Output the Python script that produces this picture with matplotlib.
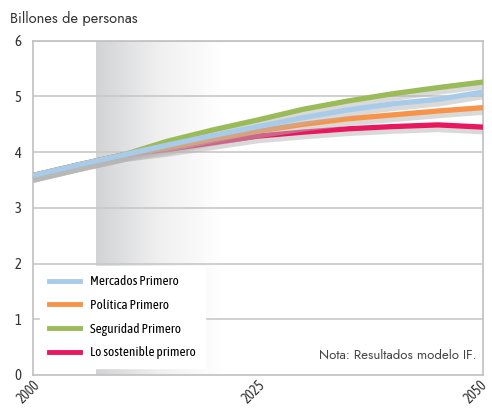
import matplotlib
matplotlib.use("Agg")
import matplotlib.pyplot as plt
import matplotlib.patheffects as pe
import matplotlib.transforms as mtransforms
import numpy as np
from matplotlib.colors import LinearSegmentedColormap
from matplotlib.lines import Line2D

years = [2000, 2005, 2010, 2015, 2020, 2025, 2030, 2035, 2040, 2045, 2050]
mercados = [3.58, 3.77, 3.95, 4.13, 4.30, 4.46, 4.62, 4.76, 4.87, 4.95, 5.08]
politica = [3.58, 3.77, 3.95, 4.08, 4.24, 4.38, 4.50, 4.60, 4.67, 4.74, 4.80]
seguridad = [3.58, 3.77, 3.95, 4.20, 4.40, 4.58, 4.77, 4.92, 5.05, 5.16, 5.26]
sostenible = [3.58, 3.77, 3.95, 4.05, 4.17, 4.29, 4.36, 4.42, 4.46, 4.49, 4.45]
series_names = ["Mercados Primero", "Política Primero", "Seguridad Primero", "Lo sostenible primero"]
colors = ["#a9cbea", "#f7944a", "#9bbb59", "#e9175d"]
yticks = [0, 1, 2, 3, 4, 5, 6]
xticks = [2000, 2025, 2050]

cond = ["Asap Condensed", "Roboto Condensed", "DejaVu Sans"]
geo = ["Jost", "Questrial", "Lato", "DejaVu Sans"]
plt.rcParams['font.family'] = cond

fig = plt.figure(figsize=(4.92, 4.08), dpi=100)
ax = fig.add_axes([0.067, 0.081, 0.915, 0.819])

# gradient band
grad = np.linspace(0, 1, 256).reshape(1, -1)
cmap = LinearSegmentedColormap.from_list("g", ["#d2d3d5", "#f0f0f1", "#ffffff"])
ax.imshow(grad, extent=[2007, 2021, 0, 6], aspect='auto', cmap=cmap, zorder=0)

for v in yticks[1:]:
    ax.axhline(v, color="#c8c8c8", lw=1.2, zorder=1)

data = [mercados, politica, seguridad, sostenible]
for z, i in enumerate([3, 1, 2, 0]):
    ax.plot(years, data[i], color=colors[i], lw=3.8, solid_capstyle='butt', zorder=3 + z,
            path_effects=[pe.SimpleLineShadow(offset=(0, -2.5), shadow_color='#b5b5b5', alpha=0.5,
                                              linewidth=5.5),
                          pe.Normal()])

ax.set_xlim(2000, 2050)
ax.set_ylim(0, 6)
ax.set_yticks(yticks)
ax.set_xticks(xticks)
ax.set_xticklabels([str(x) for x in xticks], rotation=45, ha='center', va='top')
ax.tick_params(axis='x', length=0, pad=2, labelsize=10, colors="#333333")
ax.tick_params(axis='y', length=0, pad=8, labelsize=10.5, colors="#333333")
for k, lab in enumerate(ax.get_xticklabels()):
    dx = -7 if k == len(xticks) - 1 else -4
    off = mtransforms.ScaledTranslation(dx / 100, 0, fig.dpi_scale_trans)
    lab.set_transform(lab.get_transform() + off)
for s in ax.spines.values():
    s.set_color("#c0c0c0")
    s.set_linewidth(1.2)

lh = [Line2D([0], [0], color=c, lw=3.5) for c in colors]
leg = ax.legend(lh, series_names, loc='lower left', bbox_to_anchor=(0.0, 0.0), frameon=True,
                fancybox=False, framealpha=1, edgecolor='white', fontsize=9.5,
                handlelength=2.4, labelspacing=0.8, borderpad=0.7, handletextpad=0.7)
leg.set_zorder(10)

ax.text(0.985, 0.04, "Nota: Resultados modelo IF.", transform=ax.transAxes, ha='right', va='bottom',
        fontsize=9.5, color="#444444", family=geo)
fig.text(0.02, 0.955, "Billones de personas", ha='left', va='center', fontsize=10.5, color="#333333",
         family=geo)

fig.savefig("out.png", dpi=100)
